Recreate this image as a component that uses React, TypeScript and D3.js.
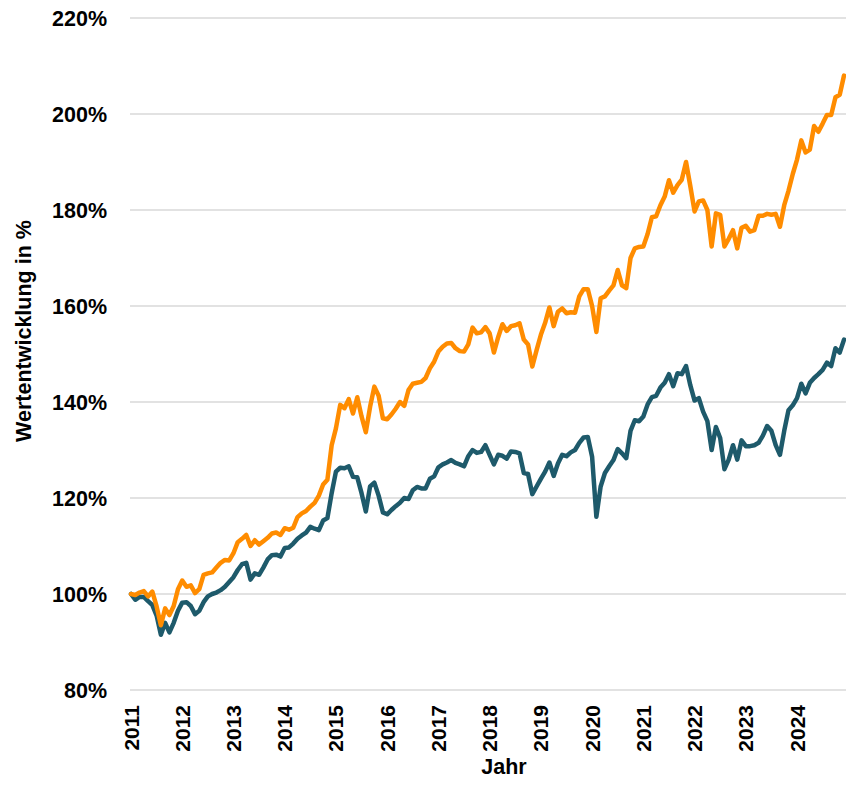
import React from "react";
import * as d3 from "d3";

const yearLabels = ["2011","2012","2013","2014","2015","2016","2017","2018","2019","2020","2021","2022","2023","2024"];
const yTicks = [80, 100, 120, 140, 160, 180, 200, 220];

// monthly values, Jan 2011 .. Dec 2024
const seriesTeal = [
  100, 98.8, 99.4, 99.4, 98.5, 97.7, 95.5, 91.5, 94, 92, 94, 96.5,
  98.2, 98.3, 97.5, 95.8, 96.5, 98.3, 99.5, 100, 100.3, 100.8, 101.5, 102.5,
  103.5, 105, 106.2, 106.5, 103, 104.3, 104, 105.5, 107.2, 108.1, 108.2, 107.8,
  109.6, 109.7, 110.5, 111.5, 112.2, 112.8, 114, 113.6, 113.3, 115.3, 115.8, 121,
  125.5, 126.3, 126.2, 126.6, 124.4, 124.3, 121, 117.2, 122.4, 123.2, 120.5, 117,
  116.6, 117.5, 118.3, 119, 120, 119.8, 121.6, 122.3, 122, 122, 124, 124.5,
  126.4, 127, 127.4, 127.9, 127.3, 127, 126.6, 128.7, 130, 129.4, 129.6, 131,
  129, 127, 129, 128.8, 128.2, 129.7, 129.6, 129.3, 125.2, 125, 120.8, 122.4,
  124, 125.5, 127.4, 124.6, 127.2, 129, 128.7, 129.5, 130, 131.5, 132.6, 132.7,
  128.6, 116.1, 122.4, 125.2, 126.6, 127.9, 130.2, 129.3, 128.3, 134, 136.2, 136,
  137, 139.5, 141, 141.3, 143, 144, 145.8, 143.3, 146, 145.8, 147.5, 143.5,
  140.3, 140.8, 138, 136, 130, 134.8, 132.5, 126, 128, 131, 128, 132,
  130.8, 130.8, 131, 131.5, 133, 135, 134, 131, 129, 134, 138.3, 139.3,
  140.8, 143.8, 141.8, 144, 145, 145.8, 146.7, 148.2, 147.5, 151.2, 150.3, 153,
];

const seriesOrange = [
  100, 99.8, 100.3, 100.6, 99.5, 100.5, 97.4, 93.5, 97, 95.6, 97.5, 101,
  102.8, 101.5, 101.8, 100.2, 101, 104, 104.3, 104.5, 105.5, 106.5, 107.1, 107,
  108.5, 110.8, 111.5, 112.3, 110, 111.2, 110.3, 111, 111.7, 112.6, 112.8, 112.3,
  113.7, 113.4, 113.8, 116, 116.8, 117.3, 118.2, 119, 120.5, 122.8, 123.8, 131,
  134.5, 139.4, 138.7, 140.6, 137.6, 141, 137, 133.7, 139, 143.2, 141.3, 136.6,
  136.4, 137.4, 138.6, 140, 139.2, 142.5, 143.8, 144, 144.2, 145, 147, 148.4,
  150.5, 151.5, 152.2, 152.3, 151.2, 150.6, 150.5, 152, 155.5, 154.3, 154.5, 155.6,
  154.3, 150.3, 153.5, 156.2, 154.8, 155.8, 156, 156.4, 153, 152, 147.4, 150.8,
  154, 156.5, 159.7, 155.8, 158.8, 159.5, 158.5, 158.7, 158.6, 162, 163.5, 163.5,
  160, 154.6, 161.6, 162, 163.2, 164.3, 167.5, 164.3, 163.7, 170, 172, 172.3,
  172.4, 175, 178.5, 178.7, 181, 182.8, 186.2, 183.6, 185.2, 186.3, 190, 185,
  179.7, 181.8, 182, 180, 172.4, 179.3, 179, 172.4, 174, 175.8, 172, 176.3,
  176.7, 175.5, 175.8, 178.8, 178.8, 179.2, 179, 179.2, 176.5, 181, 184, 187.5,
  190.5, 194.5, 192, 192.6, 197.5, 196.3, 198, 199.8, 199.8, 203.5, 204, 208,
];

const W = 846;
const H = 786;
const FONT = "'Liberation Sans', Arial, Helvetica, sans-serif";

export default function App() {
  const n = seriesTeal.length;
  const x = d3.scaleLinear().domain([0, n - 1]).range([131, 844]);
  const y = d3.scaleLinear().domain([80, 220]).range([690, 18]);
  const line = d3
    .line<number>()
    .x((_, i) => x(i))
    .y((d) => y(d))
    .curve(d3.curveLinear);

  return (
    <svg
      width={W}
      height={H}
      style={{ position: "absolute", left: 0, top: 0, background: "#fff" }}
      fontFamily={FONT}
    >
      {yTicks.map((t) => (
        <g key={t}>
          <line x1={130} x2={846} y1={y(t)} y2={y(t)} stroke="#d9d9d9" strokeWidth={1.5} />
          <text
            x={107}
            y={y(t)}
            dy="0.36em"
            textAnchor="end"
            fontSize={21.5}
            fontWeight="bold"
            fill="#000"
          >
            {t}%
          </text>
        </g>
      ))}
      {yearLabels.map((lab, k) => {
        const xi = x(k * 12);
        return (
          <text
            key={lab}
            transform={`translate(${xi},705) rotate(-90)`}
            dy="0.36em"
            textAnchor="end"
            fontSize={21}
            fontWeight="bold"
            fill="#000"
          >
            {lab}
          </text>
        );
      })}
      <path d={line(seriesTeal) || ""} fill="none" stroke="#1e5a6b" strokeWidth={4.5} strokeLinejoin="round" strokeLinecap="round" />
      <path d={line(seriesOrange) || ""} fill="none" stroke="#ff8c00" strokeWidth={4.5} strokeLinejoin="round" strokeLinecap="round" />
      <text x={504} y={774} textAnchor="middle" fontSize={21.5} fontWeight="bold" fill="#000">
        Jahr
      </text>
      <text
        transform="translate(31,331) rotate(-90)"
        textAnchor="middle"
        fontSize={21.5}
        fontWeight="bold"
        fill="#000"
      >
        Wertentwicklung in %
      </text>
    </svg>
  );
}
